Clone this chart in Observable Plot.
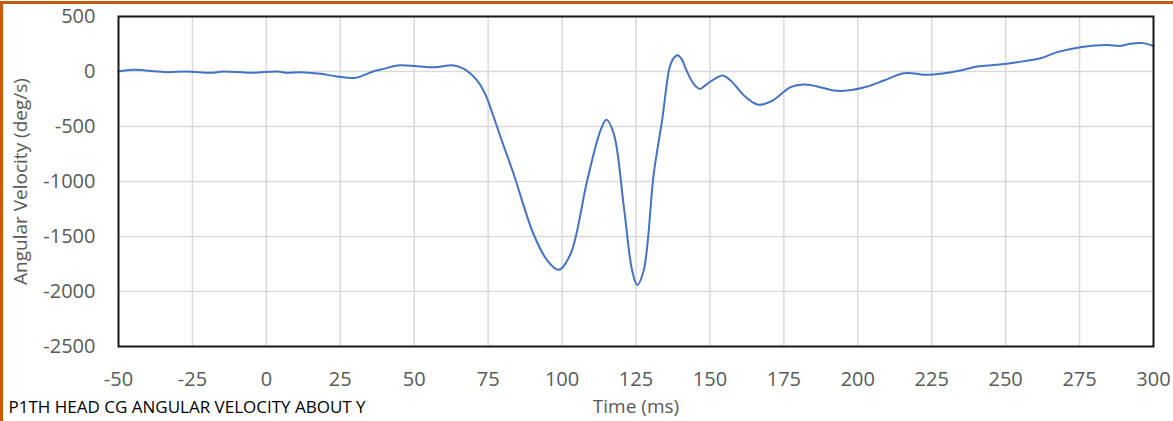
<!DOCTYPE html>
<html>
<head>
<meta charset="utf-8">
<script src="https://cdn.jsdelivr.net/npm/d3@7"></script>
<script src="https://cdn.jsdelivr.net/npm/@observablehq/plot@0.6"></script>
<style>
  html, body { margin: 0; padding: 0; background: #fff; }
  #wrap { position: relative; width: 1173px; height: 421px; overflow: hidden; }
  #border { position: absolute; left: 0; top: 1px; width: 1200px; height: 500px; border: 3px solid #c55a11; box-sizing: border-box; pointer-events: none; }
</style>
</head>
<body>
<div id="wrap"><div id="chart"></div><div id="border"></div></div>
<script>
const timeMs = [-50, -44.8, -38, -33.5, -26.8, -18.9, -14.4, -5.4, 3.7, 7, 11.5, 18.3, 23.9, 30.1, 36.3, 39.7, 44.3, 51, 56.6, 63.4, 66.8, 71.3, 74.1, 75.8, 79.5, 83.6, 90.3, 95, 98.9, 102.9, 108.5, 113, 115, 117.5, 120.9, 123.7, 125.4, 127.6, 131, 133.9, 136.4, 137.7, 139.1, 140.5, 141.9, 144.5, 146.6, 149.1, 154.2, 157, 161.5, 166, 168.5, 171.6, 177.3, 181.8, 186.3, 191.9, 196.4, 203.2, 208.8, 215.6, 223.5, 228, 234.7, 240.4, 247.1, 253.9, 261.8, 267.4, 275.3, 284.3, 288.9, 292.2, 296.3, 300];
const angVel = [0, 15, 3, -6, 0, -12, 0, -12, 0, -12, -6, -21, -45, -58, 3, 24, 55, 48, 39, 55, 24, -82, -210, -330, -620, -930, -1475, -1718, -1803, -1657, -991, -536, -439, -567, -1233, -1809, -1940, -1809, -930, -430, 40, 120, 148, 110, 20, -112, -158, -112, -36, -82, -218, -300, -295, -258, -142, -118, -136, -173, -173, -136, -82, -15, -30, -21, 9, 45, 61, 85, 121, 176, 221, 242, 233, 252, 258, 232];
const xTicks = [-50, -25, 0, 25, 50, 75, 100, 125, 150, 175, 200, 225, 250, 275, 300];
const yTicks = [-2500, -2000, -1500, -1000, -500, 0, 500];
const yTitle = "Angular Velocity (deg/s)";
const xTitle = "Time (ms)";
const caption = "P1TH HEAD CG ANGULAR VELOCITY ABOUT Y";

const data = timeMs.map((t, i) => ({t, v: angVel[i]}));

const chart = Plot.plot({
  width: 1173,
  height: 421,
  marginLeft: 118,
  marginRight: 20,
  marginTop: 16,
  marginBottom: 75,
  style: {fontFamily: "'Open Sans', sans-serif", fontSize: "20px", color: "#595959", background: "transparent"},
  x: {domain: [-50, 300]},
  y: {domain: [-2500, 500]},
  marks: [
    Plot.gridX(xTicks, {stroke: "#d9d9d9", strokeOpacity: 1, strokeWidth: 1.5}),
    Plot.gridY(yTicks, {stroke: "#d9d9d9", strokeOpacity: 1, strokeWidth: 1.5}),
    Plot.axisX(xTicks, {tickSize: 0, tickPadding: 25, tickFormat: d => String(d), label: null, fill: "#595959", fontSize: 20}),
    Plot.axisY(yTicks, {tickSize: 0, tickPadding: 23, tickFormat: d => String(d), label: null, fill: "#595959", fontSize: 20}),
    Plot.line(data, {x: "t", y: "v", stroke: "#4472c4", strokeWidth: 2, curve: "catmull-rom"}),
    Plot.frame({stroke: "#1a1a1a", strokeWidth: 2}),
    Plot.text([xTitle], {frameAnchor: "bottom", dy: 66, fill: "#595959", fontSize: 19}),
    Plot.text([yTitle], {frameAnchor: "left", dx: -98, rotate: -90, textAnchor: "middle", fill: "#595959", fontSize: 19}),
    Plot.text([caption], {frameAnchor: "bottom-left", dx: -110, dy: 66, textAnchor: "start", fill: "#000", fontSize: 17})
  ]
});
document.getElementById("chart").appendChild(chart);
</script>
</body>
</html>
